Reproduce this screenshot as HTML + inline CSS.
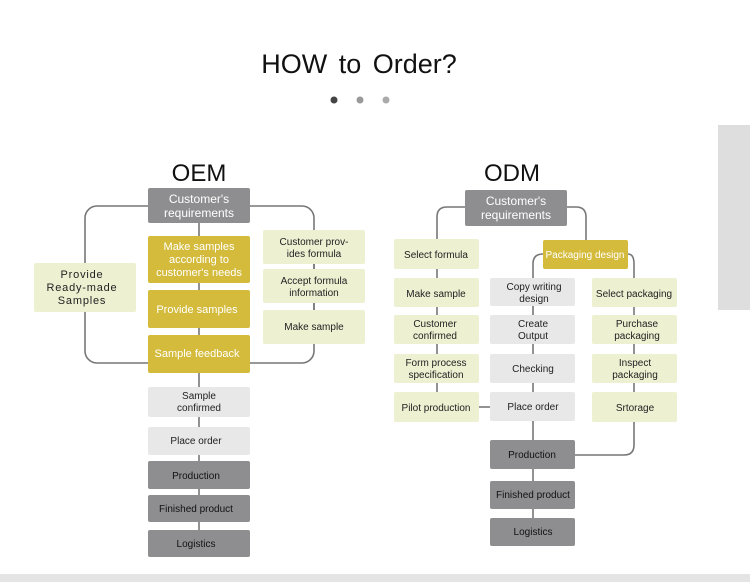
<!DOCTYPE html>
<html><head><meta charset="utf-8"><style>
html,body{margin:0;padding:0;background:#fff;}
svg{display:block;font-family:"Liberation Sans",sans-serif;}
</style></head><body>
<svg width="750" height="582" viewBox="0 0 750 582" xmlns="http://www.w3.org/2000/svg">
<rect x="0" y="0" width="750" height="582" fill="#fff"/>
<rect x="718" y="125" width="32" height="185" fill="#dedede"/>
<rect x="0" y="574" width="750" height="8" fill="#e4e4e4"/>
<text x="359" y="73" font-size="27" text-anchor="middle" fill="#111" word-spacing="4">HOW to  Order?</text>
<circle cx="334" cy="100" r="3.5" fill="#444"/>
<circle cx="360" cy="100" r="3.5" fill="#999"/>
<circle cx="386" cy="100" r="3.5" fill="#aaa"/>

<g stroke="#777" stroke-width="1.6" fill="none">
<!-- OEM -->
<rect x="85" y="206" width="229" height="157" rx="12"/>
<line x1="199" y1="206" x2="199" y2="557"/>
<line x1="314" y1="230" x2="314" y2="344" stroke="#777"/>
<!-- ODM -->
<path d="M465 207 H447 Q437 207 437 217 V415"/>
<path d="M567 207 H576 Q586 207 586 217 V240"/>
<path d="M543 254 Q533 254 533 264 V532"/>
<path d="M628 254 Q634 254 634 264 V445 Q634 455 624 455 H575"/>
<line x1="479" y1="407" x2="490" y2="407"/>
</g>
<g font-size="11" text-anchor="middle">
<text x="199" y="181" font-size="24" fill="#111">OEM</text>
<rect x="148" y="188" width="102" height="35" rx="2" fill="#8e8e90"/>
<text x="199" y="203" fill="#fff" font-size="12">Customer's</text>
<text x="199" y="217" fill="#fff" font-size="12">requirements</text>
<rect x="148" y="236" width="102" height="47" rx="2" fill="#d4bb3c"/>
<text x="199" y="250" fill="#fff">Make samples</text>
<text x="199" y="263" fill="#fff">according to</text>
<text x="199" y="276" fill="#fff">customer's needs</text>
<rect x="148" y="290" width="102" height="38" rx="2" fill="#d4bb3c"/>
<text x="197" y="313" fill="#fff">Provide samples</text>
<rect x="148" y="335" width="102" height="38" rx="2" fill="#d4bb3c"/>
<text x="197" y="357" fill="#fff">Sample feedback</text>
<rect x="34" y="263" width="102" height="49" rx="2" fill="#eef0d2"/>
<text x="82" y="278" fill="#222" letter-spacing="0.8">Provide</text>
<text x="82" y="291" fill="#222" letter-spacing="0.8">Ready-made</text>
<text x="82" y="304" fill="#222" letter-spacing="0.8">Samples</text>
<rect x="263" y="230" width="102" height="34" rx="2" fill="#eef0d2"/>
<text x="314" y="245" fill="#222" font-size="10">Customer prov-</text>
<text x="314" y="257" fill="#222" font-size="10">ides  formula</text>
<rect x="263" y="269" width="102" height="34" rx="2" fill="#eef0d2"/>
<text x="314" y="284" fill="#222" font-size="10">Accept formula</text>
<text x="314" y="296" fill="#222" font-size="10">information</text>
<rect x="263" y="310" width="102" height="34" rx="2" fill="#eef0d2"/>
<text x="314" y="330" fill="#222" font-size="10">Make sample</text>
<rect x="148" y="387" width="102" height="30" rx="2" fill="#e8e8e8"/>
<text x="199" y="399" fill="#222" font-size="10">Sample</text>
<text x="199" y="411" fill="#222" font-size="10">confirmed</text>
<rect x="148" y="427" width="102" height="28" rx="2" fill="#e8e8e8"/>
<text x="196" y="444" fill="#222" font-size="10">Place order</text>
<rect x="148" y="461" width="102" height="28" rx="2" fill="#8e8e90"/>
<text x="196" y="479" fill="#111" font-size="10">Production</text>
<rect x="148" y="495" width="102" height="27" rx="2" fill="#8e8e90"/>
<text x="196" y="512" fill="#111" font-size="10">Finished product</text>
<rect x="148" y="530" width="102" height="27" rx="2" fill="#8e8e90"/>
<text x="196" y="547" fill="#111" font-size="10">Logistics</text>

<text x="512" y="181" font-size="24" fill="#111">ODM</text>
<rect x="465" y="190" width="102" height="36" rx="2" fill="#8e8e90"/>
<text x="516" y="205" fill="#fff" font-size="12">Customer's</text>
<text x="516" y="219" fill="#fff" font-size="12">requirements</text>
<rect x="394" y="239" width="85" height="30" rx="2" fill="#eef0d2"/>
<text x="436" y="258" fill="#222" font-size="10">Select formula</text>
<rect x="543" y="240" width="85" height="29" rx="2" fill="#d4bb3c"/>
<text x="585" y="258" fill="#fff" font-size="10">Packaging design</text>

<rect x="394" y="278" width="85" height="29" rx="2" fill="#eef0d2"/>
<text x="436" y="297" fill="#222" font-size="10">Make sample</text>
<rect x="394" y="315" width="85" height="29" rx="2" fill="#eef0d2"/>
<text x="435" y="327" fill="#222" font-size="10">Customer</text>
<text x="435" y="339" fill="#222" font-size="10">confirmed</text>
<rect x="394" y="354" width="85" height="29" rx="2" fill="#eef0d2"/>
<text x="436" y="366" fill="#222" font-size="10">Form process</text>
<text x="436" y="378" fill="#222" font-size="10">specification</text>
<rect x="394" y="392" width="85" height="30" rx="2" fill="#eef0d2"/>
<text x="436" y="411" fill="#222" font-size="10">Pilot production</text>

<rect x="490" y="278" width="85" height="28" rx="2" fill="#e8e8e8"/>
<text x="534" y="290" fill="#222" font-size="10">Copy writing</text>
<text x="534" y="302" fill="#222" font-size="10">design</text>
<rect x="490" y="315" width="85" height="29" rx="2" fill="#e8e8e8"/>
<text x="533" y="327" fill="#222" font-size="10">Create</text>
<text x="533" y="339" fill="#222" font-size="10">Output</text>
<rect x="490" y="354" width="85" height="29" rx="2" fill="#e8e8e8"/>
<text x="533" y="372" fill="#222" font-size="10">Checking</text>
<rect x="490" y="392" width="85" height="29" rx="2" fill="#e8e8e8"/>
<text x="533" y="410" fill="#222" font-size="10">Place order</text>

<rect x="592" y="278" width="85" height="29" rx="2" fill="#eef0d2"/>
<text x="634" y="297" fill="#222" font-size="10">Select packaging</text>
<rect x="592" y="315" width="85" height="29" rx="2" fill="#eef0d2"/>
<text x="637" y="327" fill="#222" font-size="10">Purchase</text>
<text x="637" y="339" fill="#222" font-size="10">packaging</text>
<rect x="592" y="354" width="85" height="29" rx="2" fill="#eef0d2"/>
<text x="635" y="366" fill="#222" font-size="10">Inspect</text>
<text x="635" y="378" fill="#222" font-size="10">packaging</text>
<rect x="592" y="392" width="85" height="30" rx="2" fill="#eef0d2"/>
<text x="635" y="411" fill="#222" font-size="10">Srtorage</text>

<rect x="490" y="440" width="85" height="29" rx="2" fill="#8e8e90"/>
<text x="532" y="458" fill="#111" font-size="10">Production</text>
<rect x="490" y="481" width="85" height="28" rx="2" fill="#8e8e90"/>
<text x="533" y="498" fill="#111" font-size="10">Finished product</text>
<rect x="490" y="518" width="85" height="28" rx="2" fill="#8e8e90"/>
<text x="533" y="535" fill="#111" font-size="10">Logistics</text>
</g>
</svg>
</body></html>
